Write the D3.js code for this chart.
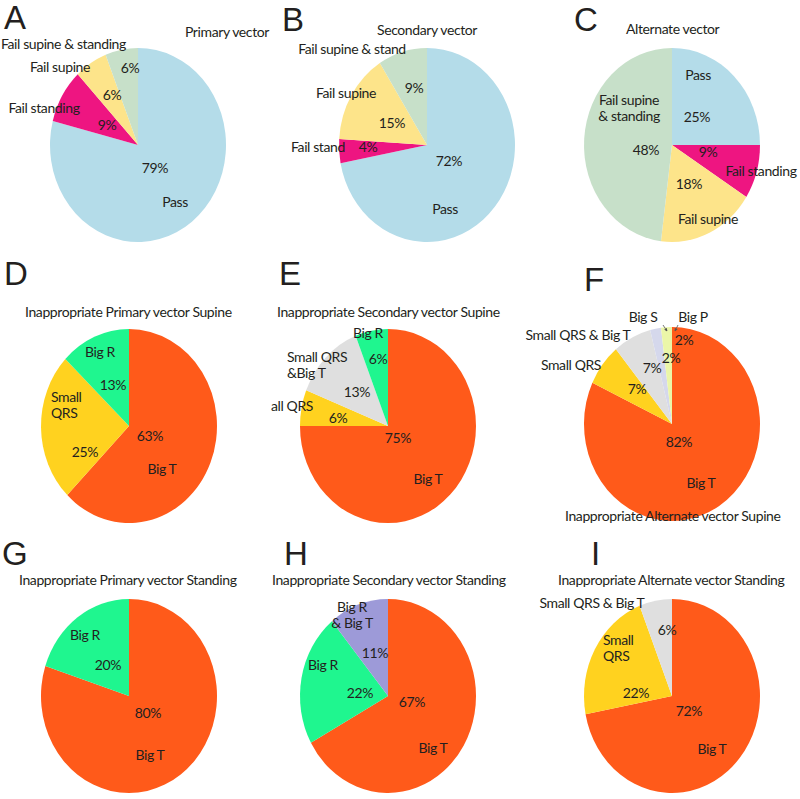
<!DOCTYPE html>
<html>
<head>
<meta charset="utf-8">
<script src="https://cdn.jsdelivr.net/npm/d3@7"></script>
<style>
  body { margin: 0; background: #fff; }
  svg text { font-family: "Lato", "Open Sans", sans-serif; fill: #231f20; }
  .letter { font-family: "Liberation Sans", Arial, sans-serif; font-size: 33px; }
  .lbl { font-size: 14px; letter-spacing: -0.4px; }
</style>
</head>
<body>
<script>
// ---- data ----
const letters = ["A", "B", "C", "D", "E", "F", "G", "H", "I"];
const titles = [
  "Primary vector", "Secondary vector", "Alternate vector",
  "Inappropriate Primary vector Supine", "Inappropriate Secondary vector Supine", "Inappropriate Alternate vector Supine",
  "Inappropriate Primary vector Standing", "Inappropriate Secondary vector Standing", "Inappropriate Alternate vector Standing"
];

const catA = ["Pass", "Fail standing", "Fail supine", "Fail supine & standing"];
const valA = [79, 9, 6, 6];
const catB = ["Pass", "Fail stand", "Fail supine", "Fail supine & stand"];
const valB = [72, 4, 15, 9];
const catC = ["Pass", "Fail standing", "Fail supine", "Fail supine\n& standing"];
const valC = [25, 9, 18, 48];
const catD = ["Big T", "Small\nQRS", "Big R"];
const valD = [63, 25, 13];
const catE = ["Big T", "all QRS", "Small QRS\n&Big T", "Big R"];
const valE = [75, 6, 13, 6];
const catF = ["Big T", "Small QRS", "Small QRS & Big T", "Big S", "Big P"];
const valF = [82, 7, 7, 2, 2];
const catG = ["Big T", "Big R"];
const valG = [80, 20];
const catH = ["Big T", "Big R", "Big R\n& Big T"];
const valH = [67, 22, 11];
const catI = ["Big T", "Small\nQRS", "Small QRS & Big T"];
const valI = [72, 22, 6];

const colour = {
  "Pass": "#b4dce9", "Fail standing": "#ee1581", "Fail stand": "#ee1581",
  "Fail supine": "#fde48a", "Fail supine & standing": "#c7e0c9", "Fail supine & stand": "#c7e0c9",
  "Fail supine\n& standing": "#c7e0c9",
  "Big T": "#ff5a1a", "Small\nQRS": "#ffd21f", "Small QRS": "#ffd21f", "all QRS": "#ffd21f",
  "Big R": "#1ff68f", "Small QRS\n&Big T": "#dfdfdf", "Small QRS & Big T": "#dfdfdf",
  "Big R\n& Big T": "#9d9ad8", "Big S": "#d5d8ec", "Big P": "#ebf6a8"
};

// ---- layout ----
const W = 800, H = 799, rx = 88, ry = 97;
const panels = [
  { cat: catA, val: valA, c: [138, 145], letter: [4, 29], title: [185, 37, "start"],
    names: [[37, 62], [-94, -32], [-78, -73], [-137, -96, "start"]],
    pcts: [[17, 28], [-31, -15], [-26, -45], [-8, -72]] },
  { cat: catB, val: valB, c: [427, 145], letter: [282, 31], title: [377, 35, "start"],
    names: [[18, 69], [-109, 7], [-81, -47], [-75, -91]],
    pcts: [[22, 21], [-59, 7], [-35, -17], [-13, -52]] },
  { cat: catC, val: valC, c: [672, 145], letter: [574, 31], title: [626, 34, "start"],
    names: [[26, -65], [89, 31], [36, 79], [-43, -40]],
    pcts: [[25, -23], [36, 12], [17, 44], [-26, 10]] },
  { cat: catD, val: valD, c: [129, 426], letter: [4, 285], title: [25, 317, "start"],
    names: [[33, 48], [-78, -24, "start"], [-29, -69]],
    pcts: [[21, 15], [-44, 31], [-16, -36]] },
  { cat: catE, val: valE, c: [388, 426], letter: [279, 285], title: [277, 317, "start"],
    names: [[40, 58], [-96, -15], [-101, -64, "start"], [-20, -88]],
    pcts: [[10, 17], [-50, -3], [-31, -29], [-10, -62]] },
  { cat: catF, val: valF, c: [672, 424], letter: [584, 291], title: [565, 521, "start"],
    names: [[29, 64], [-101, -54], [-94, -84], [-29, -102], [21, -102]],
    pcts: [[7, 23], [-35, -30], [-20, -51], [-1, -61], [12, -79]],
    arrows: [[-9, -99, -5, -93], [6, -99, 3, -93]] },
  { cat: catG, val: valG, c: [129, 696], letter: [2, 565], title: [19, 585, "start"],
    names: [[21, 64], [-44, -56]],
    pcts: [[19, 22], [-21, -26]] },
  { cat: catH, val: valH, c: [388, 696], letter: [284, 565], title: [272, 585, "start"],
    names: [[45, 57], [-65, -26], [-36, -84]],
    pcts: [[24, 11], [-28, 2], [-13, -38]] },
  { cat: catI, val: valI, c: [672, 696], letter: [591, 565], title: [558, 585, "start"],
    names: [[40, 58], [-69, -51, "start"], [-80, -88]],
    pcts: [[17, 20], [-36, 2], [-5, -61]] }
];

const svg = d3.select("body").append("svg")
  .attr("width", W)
  .attr("height", H);

const pie = d3.pie().sort(null).value(d => d.v);
const arc = d3.arc().innerRadius(0).outerRadius(ry);

svg.append("defs").append("marker")
  .attr("id", "tip")
  .attr("viewBox", "0 0 6 6")
  .attr("refX", 5).attr("refY", 3)
  .attr("markerWidth", 4).attr("markerHeight", 4)
  .attr("orient", "auto")
  .append("path").attr("d", "M0,0L6,3L0,6Z").attr("fill", "#555");

panels.forEach((p, k) => {
  const rows = p.cat.map((c, i) => ({ c: c, v: p.val[i] }));
  const g = svg.append("g");

  // slices, stretched vertically to match the oval pies
  g.append("g")
    .attr("transform", "translate(" + p.c[0] + "," + p.c[1] + ") scale(" + (rx / ry) + ",1)")
    .selectAll("path")
    .data(pie(rows))
    .join("path")
    .attr("d", arc)
    .attr("fill", d => colour[d.data.c]);

  g.append("text")
    .attr("class", "letter")
    .attr("x", p.letter[0]).attr("y", p.letter[1])
    .text(letters[k]);

  g.append("text")
    .attr("class", "lbl")
    .attr("x", p.title[0]).attr("y", p.title[1])
    .attr("text-anchor", p.title[2])
    .text(titles[k]);

  rows.forEach((r, i) => {
    const n = p.names[i];
    const t = g.append("text")
      .attr("class", "lbl")
      .attr("text-anchor", n[2] || "middle");
    r.c.split("\n").forEach((line, j) => {
      t.append("tspan")
        .attr("x", p.c[0] + n[0])
        .attr("y", p.c[1] + n[1] + j * 16)
        .text(line);
    });

    const q = p.pcts[i];
    g.append("text")
      .attr("class", "lbl")
      .attr("text-anchor", "middle")
      .attr("x", p.c[0] + q[0])
      .attr("y", p.c[1] + q[1])
      .text(r.v + "%");
  });

  if (p.arrows) {
    p.arrows.forEach(a => {
      g.append("line")
        .attr("x1", p.c[0] + a[0]).attr("y1", p.c[1] + a[1])
        .attr("x2", p.c[0] + a[2]).attr("y2", p.c[1] + a[3])
        .attr("stroke", "#555").attr("stroke-width", 0.8)
        .attr("marker-end", "url(#tip)");
    });
  }
});
</script>
</body>
</html>
